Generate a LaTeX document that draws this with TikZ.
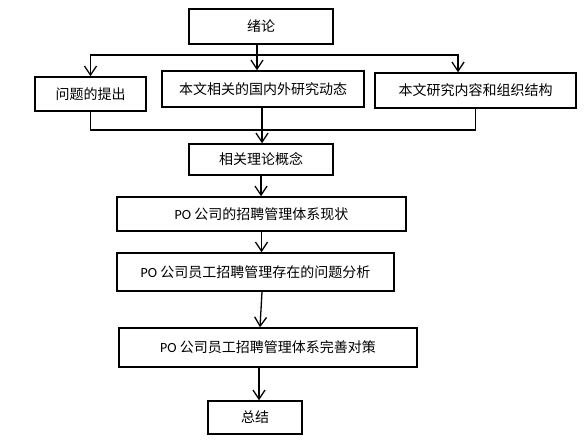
\documentclass[tikz,border=0pt]{standalone}
\usepackage{fontspec}
\setmainfont{Noto Sans CJK SC}
\newfontfamily\latinfont{Carlito}
\usetikzlibrary{arrows.meta}
\newcommand{\po}{{\latinfont PO}\ }
\tikzset{
    stagebox/.style={draw, line width=1.5pt, rectangle, inner sep=0pt, font=\fontsize{14}{16}\selectfont},
    link/.style={line width=1.3pt},
    flow/.style={link, -{Straight Barb[length=9pt,width=12pt,line width=1.3pt]}}
}
\begin{document}
\begin{tikzpicture}[x=1pt, y=-1pt]
        \useasboundingbox (0, 0) rectangle (584, 443);

        % Draw the chapter boxes
        \node[stagebox, minimum width=144, minimum height=35] (intro) at (261, 26.5) {绪论};
        \node[stagebox, minimum width=111, minimum height=34] (question) at (90.5, 94) {问题的提出};
        \node[stagebox, minimum width=202, minimum height=36] (review) at (263, 89) {本文相关的国内外研究动态};
        \node[stagebox, minimum width=201, minimum height=35] (outline) at (475.5, 90.5) {本文研究内容和组织结构};
        \node[stagebox, minimum width=144, minimum height=31] (theory) at (261, 159.5) {相关理论概念};
        \node[stagebox, minimum width=289, minimum height=34] (status) at (261.5, 214) {\po 公司的招聘管理体系现状};
        \node[stagebox, minimum width=277, minimum height=38] (problem) at (255.5, 272) {\po 公司员工招聘管理存在的问题分析};
        \node[stagebox, minimum width=298, minimum height=39] (measure) at (268, 347.5) {\po 公司员工招聘管理体系完善对策};
        \node[stagebox, minimum width=94, minimum height=33] (summary) at (255, 417.5) {总结};

        % Split after the introduction
        \coordinate (split) at (257, 55);
        \draw[link] (intro.south -| split) -- (split);
        \draw[flow] (split) -| (question.north);
        \draw[flow] (split) -- (review.north -| split);
        \draw[flow] (split) -| ([xshift=-17.5]outline.north);

        % Join before the theory
        \coordinate (join) at (262, 130);
        \draw[link] (question.south) |- (join);
        \draw[link] (outline.south) |- (join);
        \draw[flow] (review.south -| join) -- (theory.north -| join);

        % Main chain
        \draw[flow] (theory.south) -- (status.north -| theory.south);
        \draw[flow] (status.south) -- (problem.north -| status.south);
        \draw[flow] ([xshift=6.5]problem.south) -- ([xshift=-8]measure.north);
        \draw[flow] ([xshift=-9]measure.south) -- ([xshift=4]summary.north);
    \end{tikzpicture}
\end{document}
